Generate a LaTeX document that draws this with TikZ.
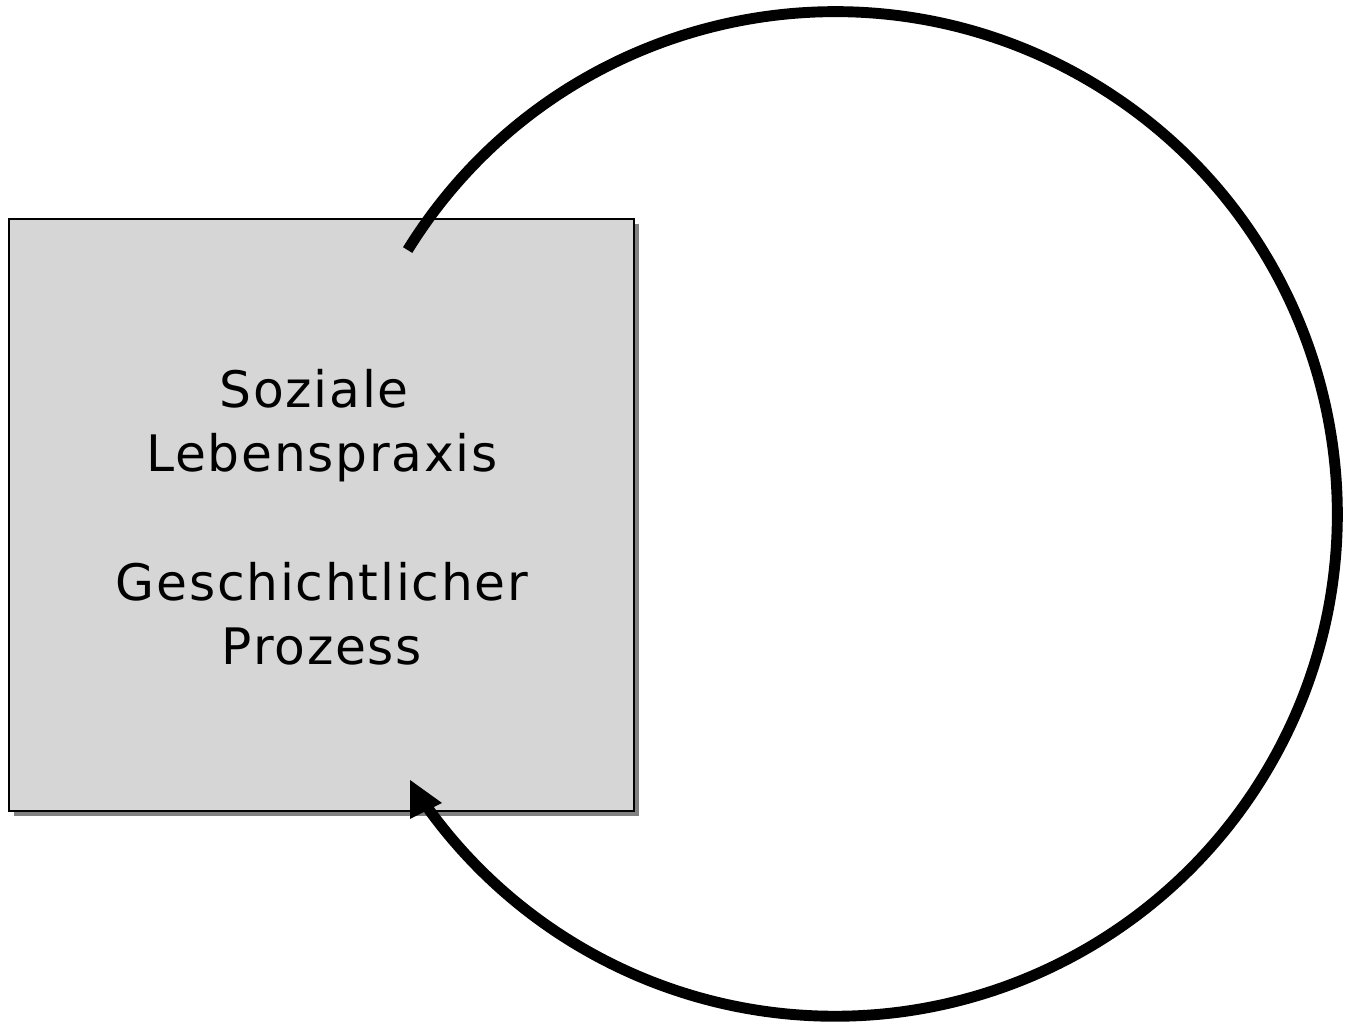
\documentclass[tikz,border=0pt]{standalone}
\usepackage{fontspec}
\newfontfamily\labelfont[LetterSpace=3.5]{DejaVu Sans}
\usetikzlibrary{shadows,calc}
\definecolor{boxgray}{HTML}{D6D6D6}
\definecolor{shadowgray}{HTML}{808080}
\tikzset{
  praxisbox/.style={draw=black, line width=0.7pt, fill=boxgray,
    minimum width=6.25cm, minimum height=5.92cm, inner sep=0pt,
    drop shadow={shadow xshift=0.05cm, shadow yshift=-0.05cm, fill=shadowgray, opacity=1}},
  praxislabel/.style={align=center, inner sep=0pt, font=\labelfont\fontsize{14.3}{18.3}\selectfont},
  cycleline/.style={line width=3.1pt, line cap=butt},
}
\begin{document}
\begin{tikzpicture}[x=0.01cm,y=0.01cm]
\useasboundingbox (0,0) rectangle (1345,1022);
\node[praxisbox] (box) at (321.5,507) {};
\node[praxislabel] (label) at (322,505) {Soziale\hspace*{0.16cm}\\Lebenspraxis\\[18.3pt]Geschichtlicher\hspace*{0.16cm}\\Prozess};
\coordinate (c) at (835,508);
\coordinate (start) at ($(c)+(148.3:5.02cm)$);
\draw[cycleline] (start) arc[start angle=148.3, end angle=-144, radius=5.02cm] coordinate (tipend);
\fill[black] (410,242) -- (442,219) -- (410,203) -- cycle;
\end{tikzpicture}
\end{document}
